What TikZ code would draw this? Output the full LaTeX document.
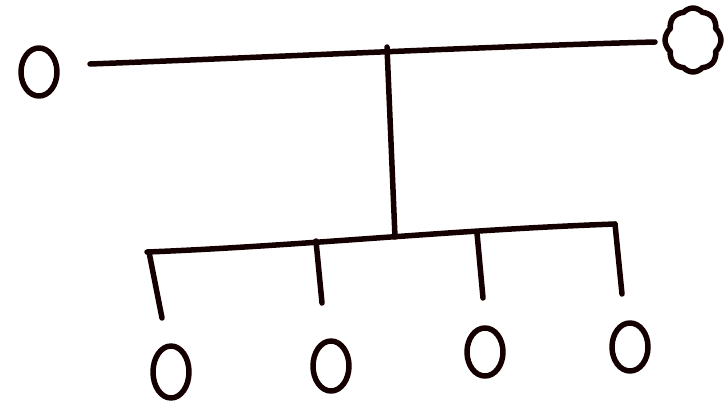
\documentclass[tikz,border=0pt]{standalone}
\usetikzlibrary{shapes.geometric,shapes.symbols}
\begin{document}
\begin{tikzpicture}[x=1pt,y=-1pt,
  ink/.style={line width=5.5pt,draw=black!92!red,line cap=round,line join=round},
  person/.style={ink,ellipse,minimum width=36pt,minimum height=48pt,inner sep=0pt},
  blob/.style={ink,cloud,cloud puffs=8,cloud puff arc=100,aspect=0.85,minimum width=56pt,minimum height=64pt,inner sep=0pt}]
\useasboundingbox (0,0) rectangle (726,407);
\node[person] (p0) at (39,72) {};
\node[blob] (s) at (693,40) {};
\node[person,minimum height=52pt] (c1) at (171,372) {};
\node[person,minimum height=50pt] (c2) at (331,366) {};
\node[person] (c3) at (485,352) {};
\node[person] (c4) at (630,347) {};
\coordinate (tl) at (90,64);
\coordinate (tr) at (655,42);
\coordinate (tm) at (387,47);
\coordinate (bm) at (395,237);
\coordinate (bl) at (147,252);
\coordinate (br) at (615,224);
\coordinate (d1a) at (149,252); \coordinate (d1b) at (162,318);
\coordinate (d2a) at (316,241); \coordinate (d2b) at (322,303);
\coordinate (d3a) at (477,233); \coordinate (d3b) at (483,298);
\coordinate (d4b) at (622,294);
\draw[ink] (tl) .. controls (250,58) and (500,46) .. (tr);
\draw[ink] (tm) -- (bm);
\draw[ink] (bl) .. controls (300,246) and (450,230) .. (br);
\draw[ink] (d1a) -- (d1b);
\draw[ink] (d2a) -- (d2b);
\draw[ink] (d3a) -- (d3b);
\draw[ink] (br) -- (d4b);
\end{tikzpicture}
\end{document}
